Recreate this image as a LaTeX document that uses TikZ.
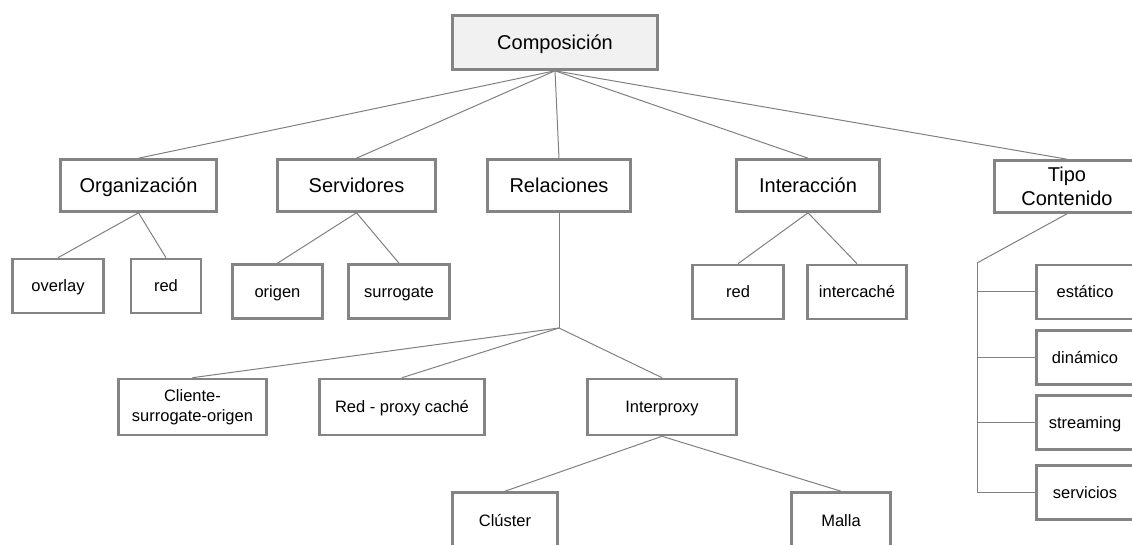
\documentclass[tikz,border=0pt]{standalone}
\usepackage{fontspec}
\setmainfont{Liberation Sans}

\begin{document}
\begin{tikzpicture}[
    x=1pt, y=-1pt,
    every node/.style={align=center, text=black, inner sep=0pt},
    rootbox/.style={
      rectangle, draw=boxGray, fill=rootFill, line width=2.6pt,
      text height=14.3pt, text depth=0pt,
      font=\fontsize{20}{24}\selectfont
    },
    catbox/.style={
      rectangle, draw=boxGray, fill=white, line width=2.6pt,
      minimum height=52, text height=14.3pt, text depth=0pt,
      font=\fontsize{20}{24}\selectfont
    },
    leafbox/.style={
      rectangle, draw=boxGray, fill=white, line width=2.6pt,
      minimum height=54, text height=11.8pt, text depth=0pt,
      font=\fontsize{16.5}{20}\selectfont
    },
    twolines/.style={text height=, text depth=},
    link/.style={draw=lineGray, line width=1pt}
  ]
    \definecolor{boxGray}{RGB}{132,132,132}
    \definecolor{lineGray}{RGB}{128,128,128}
    \definecolor{rootFill}{RGB}{241,241,241}

    % page frame (the outer boxes run past it)
    \clip (0,0) rectangle (1132,545);

    % root
    \node[rootbox, minimum width=205, minimum height=54] (comp) at (555,42.5) {Composición};

    % categories
    \node[catbox, minimum width=156] (org) at (138.5,185.5) {Organización};
    \node[catbox, minimum width=158] (serv) at (356.5,185.5) {Servidores};
    \node[catbox, minimum width=143] (rel) at (559,185.5) {Relaciones};
    \node[catbox, minimum width=143] (inter) at (808,185.5) {Interacción};
    \node[catbox, twolines, minimum width=145] (tipo) at (1067,186.5) {Tipo\\Contenido};

    % leaves under the categories
    \node[leafbox, minimum width=91] (overlay) at (58,286) {overlay};
    \node[leafbox, minimum width=70] (orgred) at (166,286) {red};
    \node[leafbox, minimum width=90] (origen) at (277.5,291.5) {origen};
    \node[leafbox, minimum width=101] (surrogate) at (399,291.5) {surrogate};
    \node[leafbox, minimum width=91] (interred) at (738,292) {red};
    \node[leafbox, minimum width=99] (intercache) at (857,292) {intercaché};

    % relations
    \coordinate (reljoin) at (559,328);
    \node[leafbox, twolines, minimum width=148, minimum height=56] (cliente) at (192.5,407) {Cliente-\\surrogate-origen};
    \node[leafbox, minimum width=165, minimum height=56] (redproxy) at (402,407) {Red - proxy caché};
    \node[leafbox, minimum width=149, minimum height=56] (interproxy) at (662,407) {Interproxy};
    \node[leafbox, minimum width=105, minimum height=56] (cluster) at (505,520.5) {Clúster};
    \node[leafbox, minimum width=99, minimum height=56] (malla) at (841,520.5) {Malla};

    % content types
    \coordinate (tipojoin) at (977,263);
    \node[leafbox, minimum width=97] (estatico) at (1085,292) {estático};
    \node[leafbox, minimum width=97] (dinamico) at (1085,357.5) {dinámico};
    \node[leafbox, minimum width=97] (streaming) at (1085,422.5) {streaming};
    \node[leafbox, minimum width=97] (servicios) at (1085,492.5) {servicios};

    % connectors
    \foreach \c in {org,serv,rel,inter,tipo} {
      \draw[link] (comp.south) -- (\c.north);
    }
    \draw[link] (org.south) -- (overlay.north);
    \draw[link] (org.south) -- (orgred.north);
    \draw[link] (serv.south) -- (origen.north);
    \draw[link] (serv.south) -- (surrogate.north);
    \draw[link] (inter.south) -- (interred.north);
    \draw[link] (inter.south) -- (intercache.north);

    \draw[link] (rel.south) -- (reljoin);
    \draw[link] (reljoin) -- (cliente.north);
    \draw[link] (reljoin) -- (redproxy.north);
    \draw[link] (reljoin) -- (interproxy.north);
    \draw[link] (interproxy.south) -- (cluster.north);
    \draw[link] (interproxy.south) -- (malla.north);

    \draw[link] (tipo.south) -- (tipojoin);
    \foreach \c in {estatico,dinamico,streaming,servicios} {
      \draw[link] (tipojoin) |- (\c.west);
    }
  \end{tikzpicture}
\end{document}
